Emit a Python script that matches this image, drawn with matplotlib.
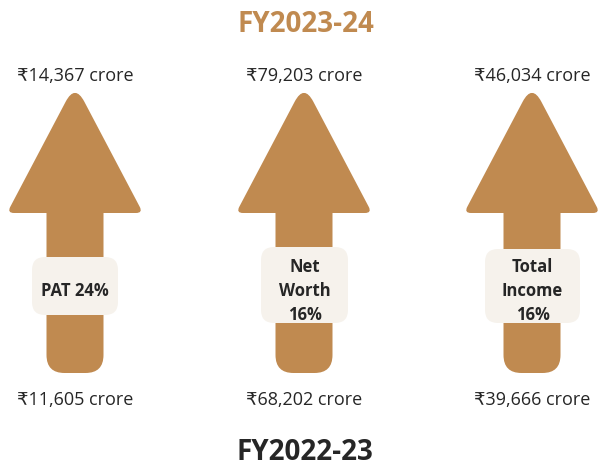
import numpy as np
import matplotlib.pyplot as plt
from matplotlib.patches import PathPatch, FancyBboxPatch
from matplotlib.path import Path

plt.rcParams['font.family'] = ['Open Sans', 'DejaVu Sans']

# Donnees
metriques = ['PAT 24%', 'Net\nWorth\n16%', 'Total\nIncome\n16%']
valeurs_2024 = ['₹14,367 crore', '₹79,203 crore', '₹46,034 crore']
valeurs_2023 = ['₹11,605 crore', '₹68,202 crore', '₹39,666 crore']
titre_haut = 'FY2023-24'
titre_bas = 'FY2022-23'

brun = '#C08A50'
creme = '#F6F2EC'
sombre = '#262626'


def polygone_arrondi(points, rayons):
    '''Chemin ferme dont chaque sommet est arrondi avec son propre rayon.'''
    pts = np.array(points, dtype=float)
    n = len(pts)
    verts, codes = [], []
    for i in range(n):
        p = pts[i]
        a = pts[i - 1]
        b = pts[(i + 1) % n]
        r = rayons[i]
        ua = (a - p) / np.linalg.norm(a - p)
        ub = (b - p) / np.linalg.norm(b - p)
        codes += [Path.MOVETO if i == 0 else Path.LINETO, Path.CURVE3, Path.CURVE3]
        verts += [p + ua * r, p, p + ub * r]
    verts.append(verts[0])
    codes.append(Path.CLOSEPOLY)
    return Path(verts, codes)


fig = plt.figure(figsize=(5.98, 4.68), dpi=100)
ax = fig.add_axes([0, 0, 1, 1])
ax.set_xlim(0, 598)
ax.set_ylim(468, 0)
ax.axis('off')

centres = [75, 304, 532]
boites = [(32, 257, 86, 58), (261, 247, 87, 76), (485, 249, 95, 74)]

for xc, m, v1, v0, b in zip(centres, metriques, valeurs_2024, valeurs_2023, boites):
    contour = [(xc, 84), (xc + 68, 213), (xc + 28.5, 213), (xc + 28.5, 373),
               (xc - 28.5, 373), (xc - 28.5, 213), (xc - 68, 213)]
    rayons = [20, 7, 0.01, 18, 18, 0.01, 7]
    ax.add_patch(PathPatch(polygone_arrondi(contour, rayons),
                           facecolor=brun, edgecolor='none'))
    # etiquette
    bx, by, bw, bh = b
    ax.add_patch(FancyBboxPatch((bx, by), bw, bh,
                                boxstyle='round,pad=0,rounding_size=13',
                                facecolor=creme, edgecolor='none'))
    ax.text(bx + bw / 2, 291, m, ha='center', va='center',
            fontsize=12, fontweight='bold', fontstretch='normal',
            color=sombre, linespacing=1.45)
    ax.text(xc, 76, v1, ha='center', va='center', fontsize=13, color=sombre)
    ax.text(xc, 400, v0, ha='center', va='center', fontsize=13, color=sombre)

ax.text(306, 24, titre_haut, ha='center', va='center', fontsize=20,
        fontweight='bold', fontstretch='normal', color=brun)
ax.text(305, 453, titre_bas, ha='center', va='center', fontsize=20,
        fontweight='bold', fontstretch='normal', color=sombre)

fig.savefig('out.png', dpi=100)
